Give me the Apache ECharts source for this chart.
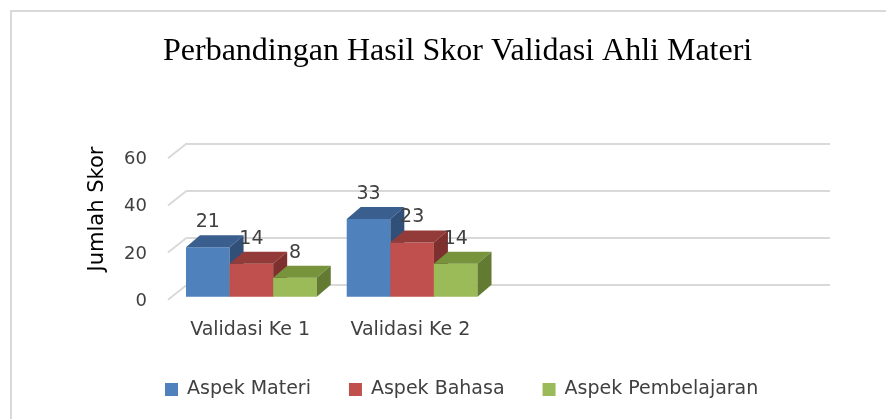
<!DOCTYPE html>
<html lang="id">
<head>
    <meta charset="UTF-8">
    <title>Perbandingan Hasil Skor Validasi Ahli Materi</title>
    <script src="https://cdn.jsdelivr.net/npm/echarts@6/dist/echarts.min.js"></script>
    <style>
        html, body { margin: 0; padding: 0; background: #fff; }
        #chart { width: 886px; height: 419px; }
    </style>
</head>
<body>
    <div id="chart"></div>
    <script type="text/javascript">
        // data
        var categories = ['Validasi Ke 1', 'Validasi Ke 2', '', ''];
        var seriesNames = ['Aspek Materi', 'Aspek Bahasa', 'Aspek Pembelajaran'];
        var aspekMateri = [21, 33];
        var aspekBahasa = [14, 23];
        var aspekPembelajaran = [8, 14];
        var yTicks = [0, 20, 40, 60];

        // colours: front, top, side
        var colors = [
            ['#4F81BD', '#3A5F8E', '#30507A'],
            ['#C0504D', '#933B39', '#7E302E'],
            ['#9BBB59', '#77933C', '#627A31']
        ];

        var FONT = 'DejaVu Sans';
        var BW = 43.6;   // lebar satu batang
        var DX = 14, DY = 12;  // kedalaman batang
        var WX = 19, WY = 15;  // kedalaman dinding

        function barRender(idx) {
            return function (params, api) {
                var cat = api.value(0);
                var val = api.value(1);
                var base = api.coord([cat, 0]);
                var top = api.coord([cat, val]);
                var cx = base[0] - 16;
                var x0 = cx - 1.5 * BW + idx * BW;
                var x1 = x0 + BW;
                var yb = base[1] + DY;
                var yt = top[1] + DY;
                var c = colors[idx];
                return {
                    type: 'group',
                    children: [
                        { type: 'rect', shape: { x: x0, y: yt, width: BW, height: yb - yt }, style: { fill: c[0] } },
                        { type: 'polygon', shape: { points: [[x0, yt], [x0 + DX, yt - DY], [x1 + DX, yt - DY], [x1, yt]] }, style: { fill: c[1] } },
                        { type: 'polygon', shape: { points: [[x1, yt], [x1 + DX, yt - DY], [x1 + DX, yb - DY], [x1, yb]] }, style: { fill: c[2] } },
                        { type: 'text', x: x0 + BW / 2, y: yt - 25, style: { text: String(val), fill: '#404040', font: '19px "' + FONT + '"', align: 'center', verticalAlign: 'middle' } }
                    ]
                };
            };
        }

        function toData(arr) {
            return arr.map(function (v, i) { return [i, v]; });
        }

        var chart = echarts.init(document.getElementById('chart'));

        var option = {
            animation: false,
            title: {
                text: 'Perbandingan Hasil Skor Validasi Ahli Materi',
                left: 158,
                top: 31,
                textStyle: { fontFamily: 'Liberation Serif', fontSize: 32, fontWeight: 'normal', color: '#000' }
            },
            legend: {
                data: seriesNames,
                left: 160,
                top: 375,
                icon: 'rect',
                itemWidth: 13,
                itemHeight: 13,
                itemGap: 38,
                textStyle: { fontFamily: FONT, fontSize: 19, color: '#404040', padding: [0, 0, 0, 4] }
            },
            graphic: [
                { type: 'polyline', shape: { points: [[11, 419], [11, 11], [886, 11]] }, style: { stroke: '#D9D9D9', lineWidth: 2, fill: null } },
                { type: 'text', x: 98, y: 209, rotation: Math.PI / 2, style: { text: 'Jumlah Skor', font: '21px "' + FONT + '"', fill: '#000', align: 'center', verticalAlign: 'middle' } }
            ],
            grid: [
                // dinding belakang
                { left: 187, right: 56, top: 143.3, bottom: 134.3 },
                // bidang depan (label)
                { left: 170, right: 75, top: 159.5, bottom: 118 }
            ],
            xAxis: [
                { type: 'category', gridIndex: 0, data: categories, axisLine: { show: false }, axisTick: { show: false }, axisLabel: { show: false } },
                {
                    type: 'category', gridIndex: 1, data: categories, axisLine: { show: false }, axisTick: { show: false },
                    axisLabel: { margin: 20, fontFamily: FONT, fontSize: 19, color: '#404040' }
                }
            ],
            yAxis: [
                {
                    type: 'value', gridIndex: 0, min: 0, max: 60, interval: 20,
                    axisLabel: { show: false }, axisLine: { show: false }, axisTick: { show: false },
                    splitLine: { lineStyle: { color: '#D9D9D9', width: 2 } }
                },
                {
                    type: 'value', gridIndex: 1, min: 0, max: 60, interval: 20,
                    axisLine: { show: false }, axisTick: { show: false }, splitLine: { show: false },
                    axisLabel: { margin: 23, fontFamily: FONT, fontSize: 18, color: '#404040' }
                }
            ],
            series: [
                {
                    type: 'custom', name: 'dinding', xAxisIndex: 0, yAxisIndex: 0,
                    data: yTicks.map(function (t) { return [0, t]; }),
                    silent: true,
                    renderItem: function (params, api) {
                        var y = api.coord([0, api.value(1)])[1];
                        var x = params.coordSys.x;
                        return { type: 'line', shape: { x1: x, y1: y, x2: x - WX, y2: y + WY }, style: { stroke: '#D9D9D9', lineWidth: 2 } };
                    }
                },
                { type: 'custom', name: seriesNames[0], xAxisIndex: 0, yAxisIndex: 0, itemStyle: { color: colors[0][0] }, data: toData(aspekMateri), renderItem: barRender(0) },
                { type: 'custom', name: seriesNames[1], xAxisIndex: 0, yAxisIndex: 0, itemStyle: { color: colors[1][0] }, data: toData(aspekBahasa), renderItem: barRender(1) },
                { type: 'custom', name: seriesNames[2], xAxisIndex: 0, yAxisIndex: 0, itemStyle: { color: colors[2][0] }, data: toData(aspekPembelajaran), renderItem: barRender(2) }
            ]
        };

        chart.setOption(option);
    </script>
</body>
</html>
